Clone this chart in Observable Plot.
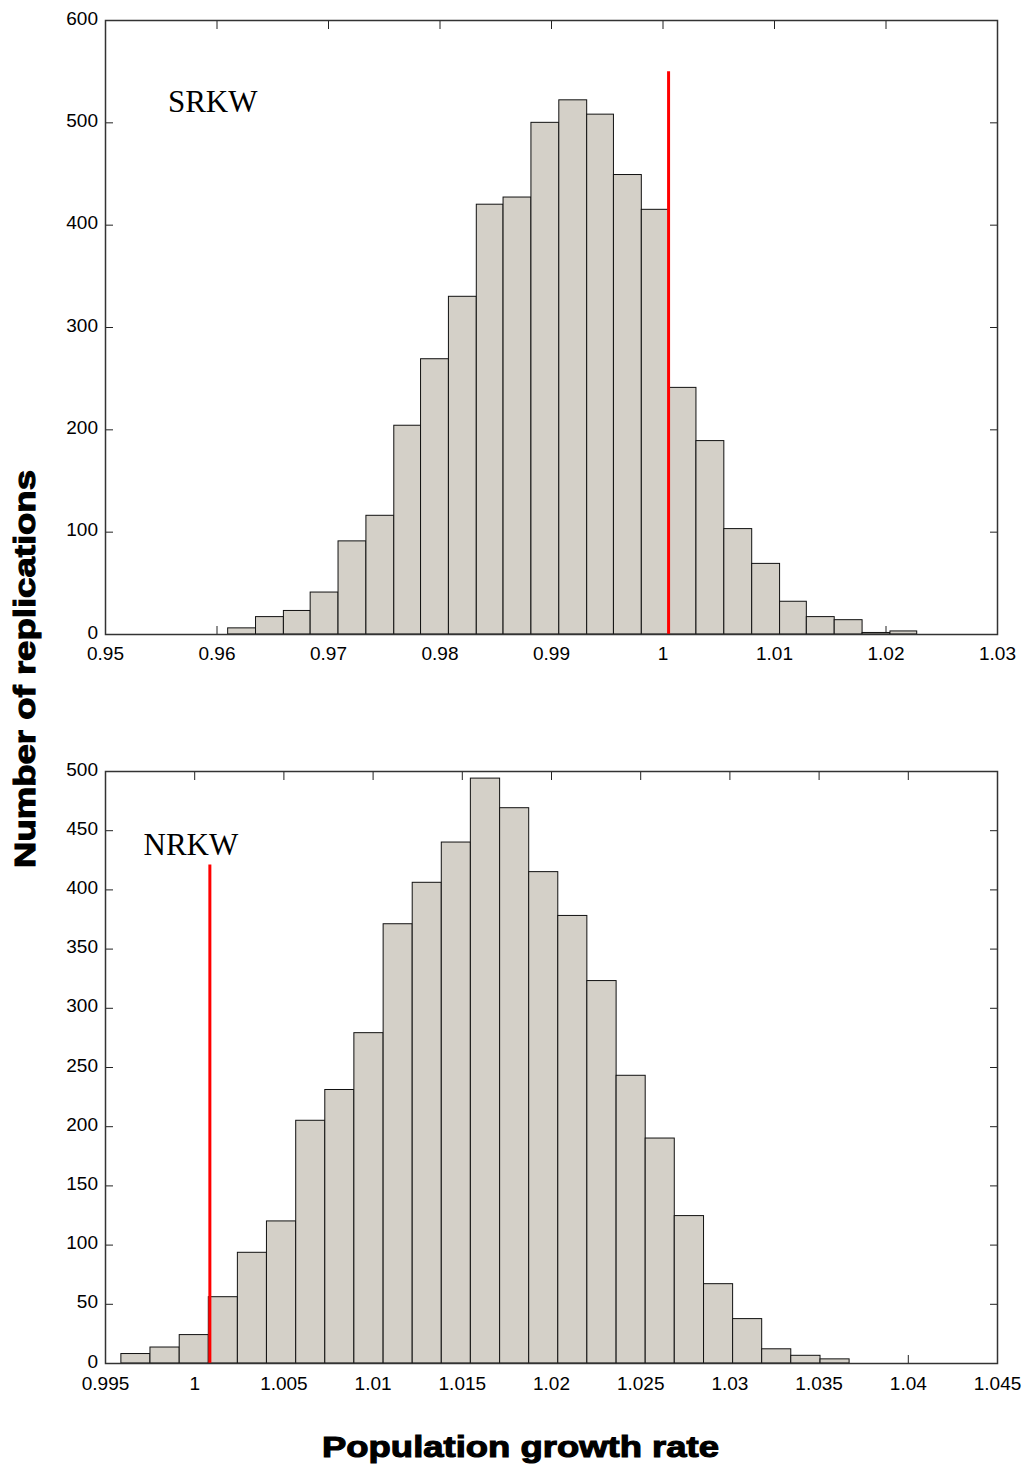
<!DOCTYPE html>
<html>
<head>
<meta charset="utf-8">
<script src="https://cdn.jsdelivr.net/npm/d3@7"></script>
<script src="https://cdn.jsdelivr.net/npm/@observablehq/plot@0.6"></script>
<style>
  html, body { margin: 0; padding: 0; background: #fff; }
  #wrap { position: relative; width: 1024px; height: 1469px; background: #fff; overflow: hidden; }
  #wrap > svg, #wrap > figure { position: absolute; left: 0; margin: 0; }
</style>
</head>
<body>
<div id="wrap"></div>
<script>
// ---------- Data: SRKW (top panel) ----------
const srkwBinEdges = [0.9610, 0.9635, 0.9660, 0.9684, 0.9709, 0.9734, 0.9759, 0.9783, 0.9808, 0.9833,
  0.9857, 0.9882, 0.9907, 0.9932, 0.9956, 0.9981, 1.0006, 1.0030, 1.0055, 1.0080,
  1.0105, 1.0129, 1.0154, 1.0179, 1.0204, 1.0228];
const srkwCounts = [6, 17, 23, 41, 91, 116, 204, 269, 330, 420, 427, 500, 522, 508, 449, 415,
  241, 189, 103, 69, 32, 17, 14, 1.5, 3];
const srkwThreshold = 1.0005;
const srkwThresholdTop = 550;
const srkwXTicks = [0.95, 0.96, 0.97, 0.98, 0.99, 1.00, 1.01, 1.02, 1.03];
const srkwYTicks = [0, 100, 200, 300, 400, 500, 600];
const srkwLabel = "SRKW";
const srkwLabelPos = [0.9556, 511];

// ---------- Data: NRKW (bottom panel) ----------
const nrkwBinEdges = [0.99589, 0.99752, 0.99916, 1.00079, 1.00242, 1.00405, 1.00569, 1.00732, 1.00895, 1.01059,
  1.01222, 1.01385, 1.01548, 1.01712, 1.01875, 1.02038, 1.02201, 1.02365, 1.02528, 1.02691,
  1.02855, 1.03018, 1.03181, 1.03344, 1.03508, 1.03671];
const nrkwCounts = [8, 13.5, 24, 56, 93.5, 120, 205, 231, 279, 371, 406, 440, 494, 469, 415,
  378, 323, 243, 190, 124.5, 67, 37.5, 12, 6.5, 3.5];
const nrkwThreshold = 1.00085;
const nrkwThresholdTop = 421;
const nrkwXTicks = [0.995, 1.000, 1.005, 1.010, 1.015, 1.020, 1.025, 1.030, 1.035, 1.040, 1.045];
const nrkwYTicks = [0, 50, 100, 150, 200, 250, 300, 350, 400, 450, 500];
const nrkwLabel = "NRKW";
const nrkwLabelPos = [0.99713, 429.6];

const yAxisTitle = "Number of replications";
const xAxisTitle = "Population growth rate";

// ---------- Build ----------
const fmt = d => String(+d.toFixed(4));
const barFill = "#d4d0c8";

function histPanel({edges, counts, threshold, thresholdTop, xTicks, yTicks, label, labelPos,
                    xDomain, yDomain, height, marginTop, marginBottom, xPad}) {
  const bins = counts.map((c, i) => ({x1: edges[i], x2: edges[i + 1], n: c}));
  return Plot.plot({
    width: 1024,
    height,
    marginLeft: 105,
    marginRight: 27,
    marginTop,
    marginBottom,
    style: {fontFamily: "'Liberation Sans', Arial, sans-serif", fontSize: "19px", background: "white", color: "black"},
    x: {domain: xDomain},
    y: {domain: yDomain},
    marks: [
      Plot.axisX(xTicks, {anchor: "bottom", tickSize: -8, tickPadding: xPad, tickFormat: fmt, label: null, stroke: "#222"}),
      Plot.axisX(xTicks, {anchor: "top", tickSize: -8, tickFormat: () => "", label: null, stroke: "#222"}),
      Plot.axisY(yTicks, {anchor: "left", tickSize: -8, tickFormat: () => "", label: null, stroke: "#222"}),
      Plot.axisY(yTicks, {anchor: "left", tickSize: 0, tickPadding: 7.5, dy: -2, tickFormat: fmt, label: null}),
      Plot.axisY(yTicks, {anchor: "right", tickSize: -8, tickFormat: () => "", label: null, stroke: "#222"}),
      Plot.rectY(bins, {x1: "x1", x2: "x2", y: "n", fill: barFill, stroke: "#111", strokeWidth: 1}),
      Plot.ruleX([threshold], {x: d => d, y1: 0, y2: thresholdTop, stroke: "#ff0000", strokeWidth: 3}),
      Plot.text([label], {x: labelPos[0], y: labelPos[1], text: d => d, textAnchor: "start", lineAnchor: "bottom",
        fontFamily: "'Liberation Serif', 'Times New Roman', serif", fontSize: 31, fill: "black"}),
      Plot.frame({stroke: "#333", strokeWidth: 1.5})
    ]
  });
}

const wrap = document.getElementById("wrap");

const topPanel = histPanel({
  edges: srkwBinEdges, counts: srkwCounts, threshold: srkwThreshold, thresholdTop: srkwThresholdTop,
  xTicks: srkwXTicks, yTicks: srkwYTicks, label: srkwLabel, labelPos: srkwLabelPos,
  xDomain: [0.95, 1.03], yDomain: [0, 600], height: 680, marginTop: 20, marginBottom: 46, xPad: 20
});
topPanel.style.top = "0px";
wrap.appendChild(topPanel);

const bottomPanel = histPanel({
  edges: nrkwBinEdges, counts: nrkwCounts, threshold: nrkwThreshold, thresholdTop: nrkwThresholdTop,
  xTicks: nrkwXTicks, yTicks: nrkwYTicks, label: nrkwLabel, labelPos: nrkwLabelPos,
  xDomain: [0.995, 1.045], yDomain: [0, 500], height: 720, marginTop: 91, marginBottom: 37, xPad: 21
});
bottomPanel.style.top = "680px";
wrap.appendChild(bottomPanel);

// ---------- Shared axis titles ----------
const ns = "http://www.w3.org/2000/svg";
const overlay = document.createElementNS(ns, "svg");
overlay.setAttribute("width", 1024);
overlay.setAttribute("height", 1469);
overlay.style.top = "0px";
overlay.style.pointerEvents = "none";
function addTitle(txt, attrs) {
  const t = document.createElementNS(ns, "text");
  t.textContent = txt;
  for (const k in attrs) t.setAttribute(k, attrs[k]);
  overlay.appendChild(t);
}
const titleStyle = {
  "font-family": "'Liberation Sans', Arial, sans-serif",
  "font-weight": "bold",
  "font-size": 30,
  "fill": "black",
  "stroke": "black",
  "stroke-width": 1.1,
  "text-anchor": "middle",
  "lengthAdjust": "spacingAndGlyphs"
};
addTitle(yAxisTitle, {...titleStyle, x: 0, y: 0, textLength: 398, transform: "translate(34.5,669) rotate(-90)"});
addTitle(xAxisTitle, {...titleStyle, x: 520.5, y: 1457, textLength: 397});
wrap.appendChild(overlay);
</script>
</body>
</html>
